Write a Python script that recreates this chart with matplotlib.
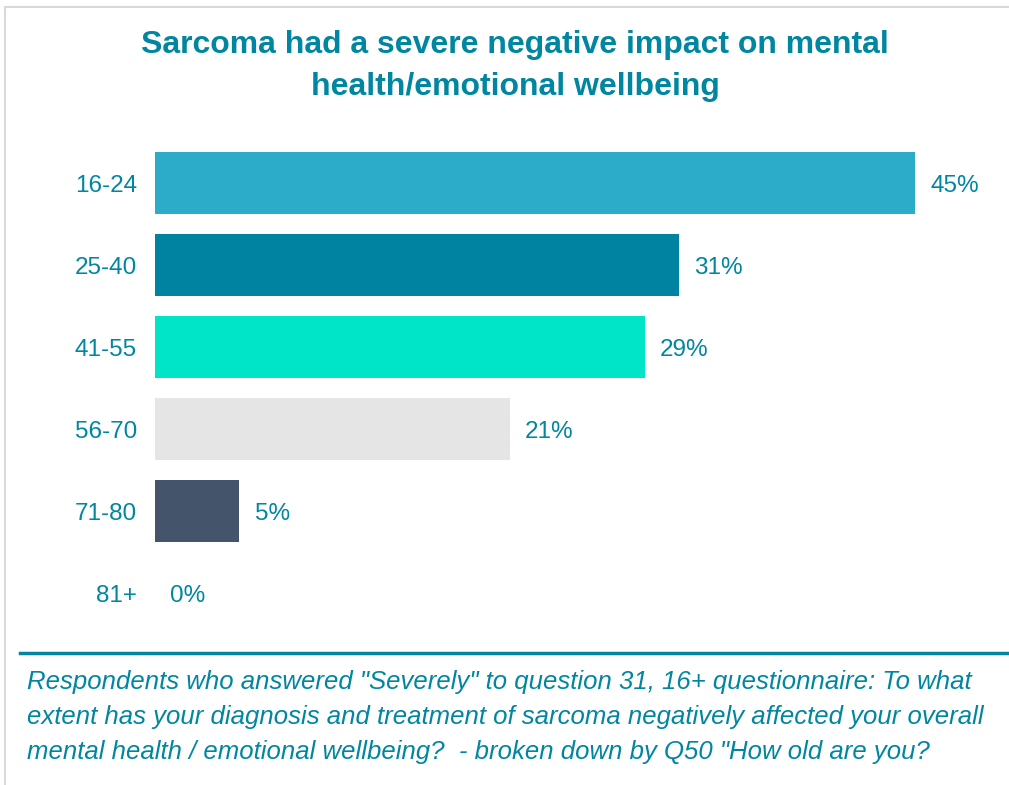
import matplotlib
matplotlib.use("Agg")
import matplotlib.pyplot as plt
from matplotlib.lines import Line2D

# age bands and share answering "Severely"
age_groups = ["16-24", "25-40", "41-55", "56-70", "71-80", "81+"]
severe_pct = [45, 31, 29, 21, 5, 0]
bar_colors = ["#2DACC9", "#0083A1", "#00E5C8", "#E5E5E5", "#44546A", "#44546A"]

title = "Sarcoma had a severe negative impact on mental\nhealth/emotional wellbeing"
footnote = ('Respondents who answered "Severely" to question 31, 16+ questionnaire: To what\n'
            'extent has your diagnosis and treatment of sarcoma negatively affected your overall\n'
            'mental health / emotional wellbeing?  - broken down by Q50 "How old are you?')

TEAL = "#0086A0"
W, H = 1009, 785

plt.rcParams["font.family"] = ["Liberation Sans", "DejaVu Sans"]

fig = plt.figure(figsize=(W / 100, H / 100), dpi=100)

# plot area: bars start at x=155px, 45% ends at 915px
ax = fig.add_axes([155 / W, 1 - 634 / H, 844.4 / W, 492 / H])
ypos = list(range(len(age_groups)))
ax.barh(ypos, severe_pct, height=0.756, color=bar_colors)
ax.set_xlim(0, 50)
ax.set_ylim(5.5, -0.5)
ax.set_yticks(ypos)
ax.set_yticklabels(age_groups)
ax.tick_params(axis="y", length=0, pad=13, labelsize=17.5, labelcolor=TEAL)
ax.set_xticks([])
for s in ax.spines.values():
    s.set_visible(False)

for y, v in zip(ypos, severe_pct):
    ax.annotate(f"{v}%", (v, y), xytext=(11, -2.5), textcoords="offset points",
                ha="left", va="center", fontsize=17.5, color=TEAL)

fig.text(515 / W, 1 - 66 / H, title, ha="center", va="center", fontsize=23,
         fontweight="bold", color=TEAL, linespacing=1.52)

fig.text(27 / W, 1 - 717 / H, footnote, ha="left", va="center", fontsize=18.5,
         style="italic", color=TEAL, linespacing=1.58)

# frame and separator lines
fig.add_artist(Line2D([5 / W, 1], [1 - 7 / H, 1 - 7 / H], color="#D9D9D9", lw=1.5))
fig.add_artist(Line2D([5 / W, 5 / W], [0, 1 - 7 / H], color="#D9D9D9", lw=1.5))
fig.add_artist(Line2D([20 / W, 1], [1 - 653 / H, 1 - 653 / H], color=TEAL, lw=2.5))

fig.savefig("out.png", dpi=100)
